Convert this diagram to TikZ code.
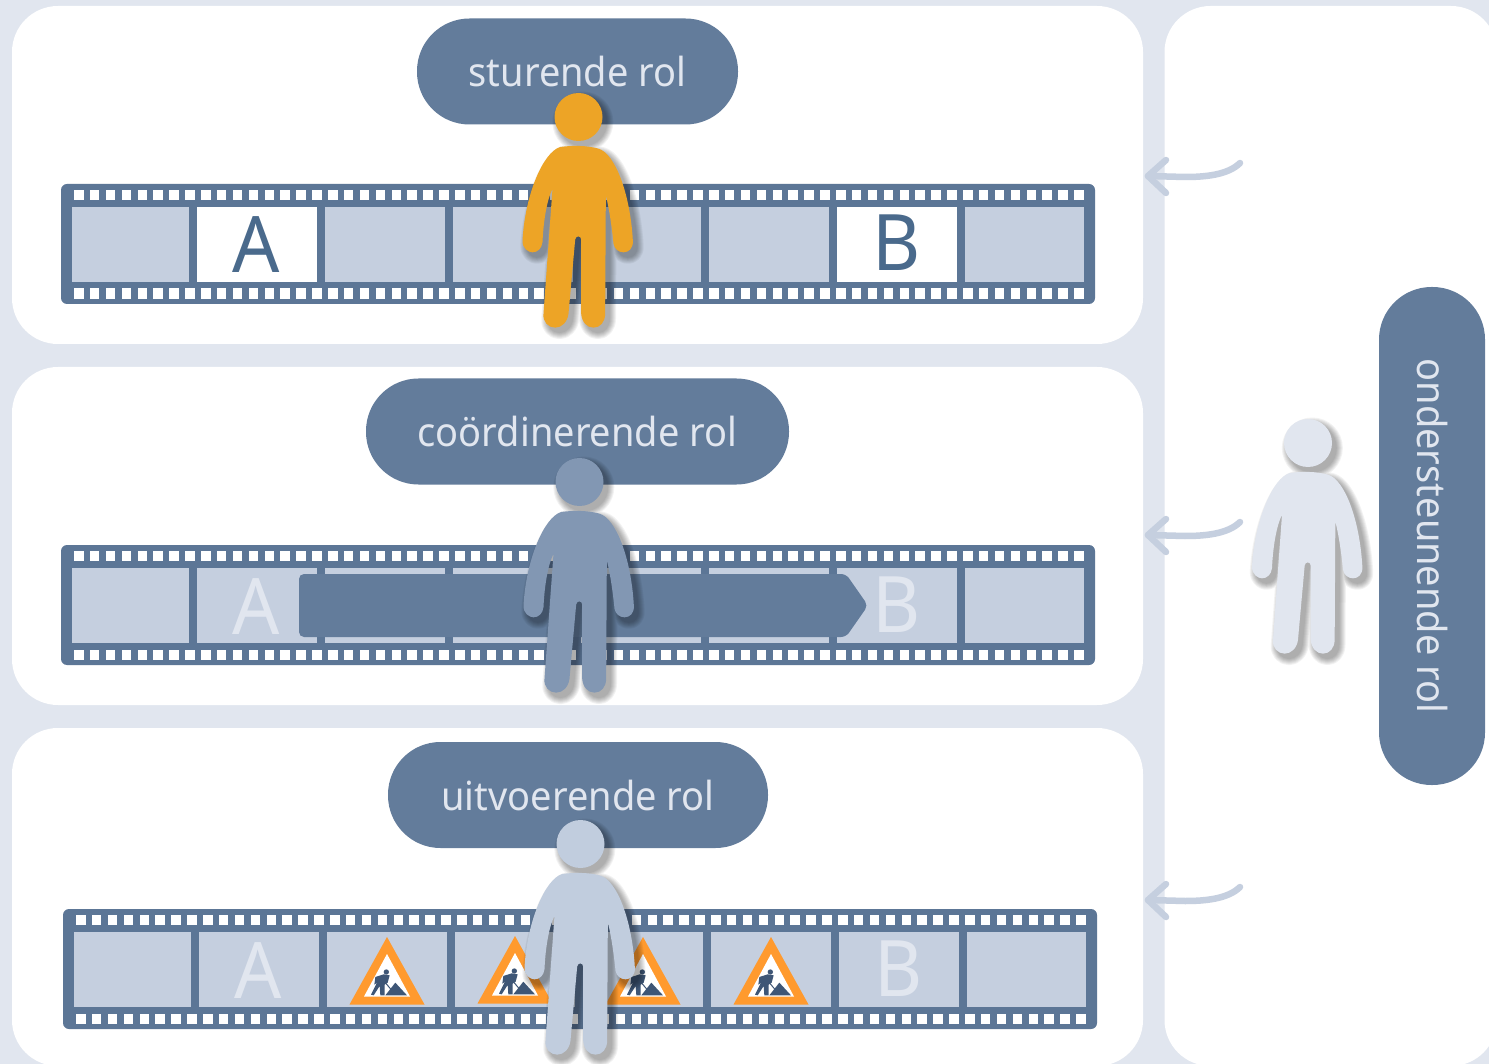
\documentclass[tikz,border=0pt]{standalone}
\usepackage{fontspec}
\setmainfont[FakeStretch=.95]{Noto Sans}
\definecolor{bgc}{HTML}{E1E6EF}
\definecolor{pillc}{HTML}{637C9B}
\definecolor{stripc}{HTML}{5C7696}
\definecolor{framec}{HTML}{C5CFDF}
\definecolor{letterc}{HTML}{4A6A8C}
\definecolor{orangep}{HTML}{EDA426}
\definecolor{bluep}{HTML}{8297B3}
\definecolor{greyp}{HTML}{C1CDDE}
\definecolor{signc}{HTML}{FF9A2E}
\definecolor{workc}{HTML}{3E5676}
\tikzset{
  panel/.style={fill=white,rounded corners=46pt},
  pill/.style={fill=pillc,text=bgc,rounded corners=52.5pt,minimum height=106pt,inner sep=0pt,font=\fontsize{40}{44}\selectfont},
  bigletter/.style={anchor=base,inner sep=0pt,font=\fontsize{78}{80}\selectfont},
  arrowline/.style={draw=framec,line width=6.5pt,line cap=round,line join=round},
  personpath/.style={insert path={
    (180,200) .. controls (130,215) and (75,340) .. (67,480)
    .. controls (66,505) and (85,516) .. (97,516) .. controls (112,516) and (125,505) .. (127,485)
    .. controls (130,420) and (140,360) .. (157,325) -- (130,700)
    .. controls (127,725) and (145,742) .. (165,742) .. controls (185,742) and (202,725) .. (205,700)
    -- (225,478) .. controls (226,465) and (243,465) .. (243,478)
    -- (243,700) .. controls (245,725) and (260,742) .. (280,742) .. controls (300,742) and (315,725) .. (315,700)
    -- (317,345) .. controls (328,390) and (335,440) .. (340,490)
    .. controls (342,505) and (355,516) .. (370,516) .. controls (385,516) and (400,505) .. (398,480)
    .. controls (390,340) and (345,220) .. (295,205)
    .. controls (260,195) and (215,195) .. (180,200) -- cycle
    (235,110) circle[radius=72]}},
  pics/person/.style={code={
    \begin{scope}[x=.3333pt,y=-.3333pt,shift={(-235,-110)}]
      \foreach \w in {13,11,9,7,5,3,1}{
        \begin{scope}[transparency group,opacity=.05]
          \path[shift={(13,15)},fill=black,draw=black,line width=\w pt,line join=round,personpath];
        \end{scope}
      }
      \path[fill=#1,personpath];
    \end{scope}}},
  pics/filmstrip/.style={code={
    \fill[stripc,rounded corners=6pt] (0,0) rectangle (1034,120);
    \foreach \a/\b in {11/128,136/256,264/384,392/512,520/640,648/768,776/896,904/1023}
      \fill[framec] (\a,23) rectangle (\b,98);
    \foreach \i in {0,...,63}{
      \fill[white] ({13+15.875*\i},6) rectangle ++(9.5,10);
      \fill[white] ({13+15.875*\i},104.5) rectangle ++(9.5,10.5);
    }}},
  pics/roadsign/.style={code={
    \fill[signc] (0,0) -- (37.5,67.5) -- (-37.5,67.5) -- cycle;
    \fill[white] (0,17) -- (23,59.5) -- (-23,59.5) -- cycle;
    \begin{scope}[x=.3333pt,y=-.3333pt,shift={(-140,-35)}]
      \fill[workc] (138,140) circle[radius=8];
      \fill[workc] (105,155) -- (130,147) -- (148,150) -- (142,172) -- (133,178) -- (133,210) -- (120,210) -- (118,182) -- (100,210) -- (92,208) -- (110,172) -- (102,178) -- cycle;
      \draw[workc,line width=1pt] (135,172) -- (155,196);
      \fill[workc] (135,210) -- (165,172) -- (200,210) -- cycle;
    \end{scope}}}
}
\begin{document}
\begin{tikzpicture}[x=1pt,y=-1pt]
\useasboundingbox (0,0) rectangle (1489,1064);
\clip (0,0) rectangle (1489,1064);
\fill[bgc] (0,0) rectangle (1489,1064);
% panels
\fill[panel] (12,6) rectangle (1143,344);
\fill[panel] (12,367) rectangle (1143,705);
\fill[panel] (12,728) rectangle (1143,1066);
\fill[panel] (1164.5,6) rectangle (1497,1066);
% strips
\pic at (61,184) {filmstrip};
\pic at (61,545) {filmstrip};
\pic at (63,909) {filmstrip};
% top strip white frames
\fill[white] (197,207) rectangle (317,282);
\fill[white] (837,207) rectangle (957,282);
\node[bigletter,text=letterc] (a1) at (256,273) {A};
\node[bigletter,text=letterc] (b1) at (897,271) {B};
% middle strip
\node[bigletter,text=bgc] (a2) at (256,634) {A};
\node[bigletter,text=bgc] (b2) at (897,632) {B};
\fill[pillc,rounded corners=5pt] (299,574) -- (846,574) -- (868,605.5) -- (846,637) -- (299,637) -- cycle;
% bottom strip
\node[bigletter,text=bgc] (a3) at (258,998) {A};
\node[bigletter,text=bgc] (b3) at (899,996) {B};
\pic at (387,937) {roadsign};
\pic at (515,936) {roadsign};
\pic at (643,937) {roadsign};
\pic at (771,937) {roadsign};
% role pills
\node[pill,minimum width=321pt] (p1) at (577.5,71.5) {sturende rol};
\node[pill,minimum width=423pt] (p2) at (577.5,431.5) {coördinerende rol};
\node[pill,minimum width=380pt] (p3) at (578,795) {uitvoerende rol};
\node[pill,minimum width=498pt,rotate=-90] (p4) at (1432,536) {ondersteunende rol};
% people
\pic at (578.5,117) {person=orangep};
\pic at (579.5,482) {person=bluep};
\pic at (580.5,844) {person=greyp};
\pic at (1308,443) {person=bgc};
% arrows
\foreach \n/\dy in {1/0,2/359,3/724}{
  \coordinate (tail\n) at (1240,{163+\dy});
  \coordinate (tip\n) at (1148,{176+\dy});
  \coordinate (hu\n) at (1166,{160+\dy});
  \coordinate (hd\n) at (1166,{193+\dy});
  \draw[arrowline] (tail\n) .. controls ([xshift=-12pt,yshift=-12pt]tail\n) and ([xshift=-35pt,yshift=-14pt]tail\n) .. ([xshift=-55pt,yshift=-14pt]tail\n) -- (tip\n);
  \draw[arrowline] (hu\n) -- (tip\n) -- (hd\n);
}
\end{tikzpicture}
\end{document}
